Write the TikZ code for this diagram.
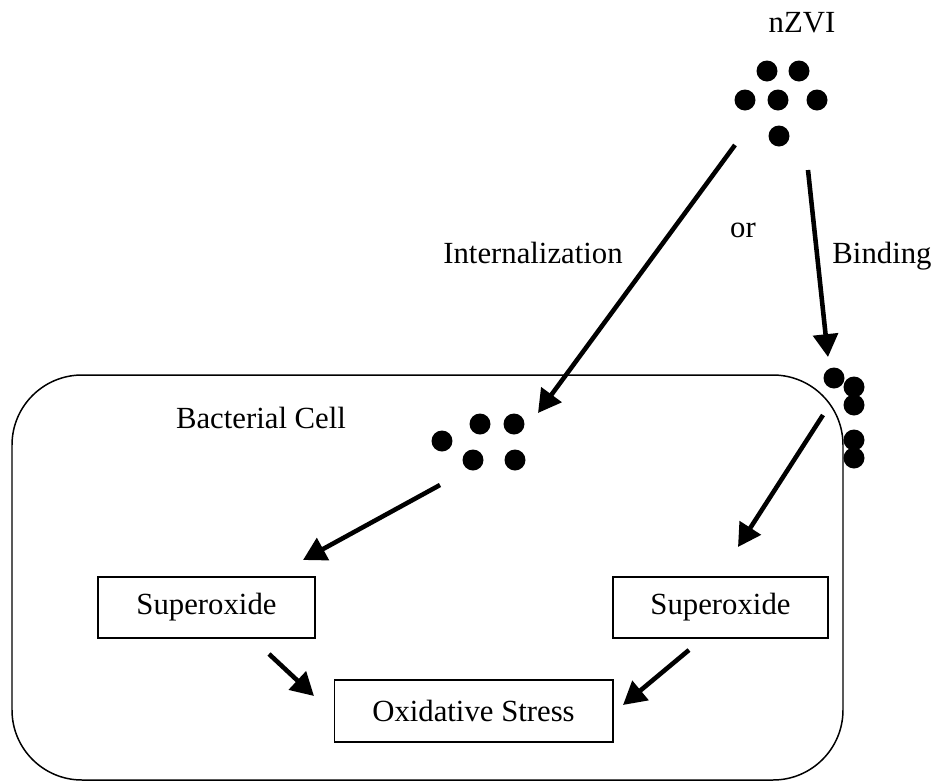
\documentclass[tikz,border=0pt]{standalone}
\usepackage{fontspec}
\setmainfont{Liberation Serif}
\usetikzlibrary{arrows.meta}

\begin{document}
\begin{tikzpicture}[
  x=0.02cm, y=-0.02cm,
  >={Triangle[length=13pt,width=14pt]},
  pointer/.style={->, line width=2.6pt},
  stagebox/.style={draw, line width=0.6pt, minimum height=1.22cm, inner sep=0pt},
  tag/.style={anchor=base, inner sep=0pt},
  font=\fontsize{17.5}{21}\selectfont
]

% --- Particle helper: (x,y) ---
\newcommand{\Particle}[2]{%
  \fill (#1,#2) circle (0.21cm);
}

\useasboundingbox (0,0) rectangle (938,782);

% --- Cell outline ---
\draw[line width=0.85pt, rounded corners=1.4cm] (12,375) rectangle (843,780);
\node[tag] (cell) at (261,428) {Bacterial Cell};

% --- Free particles ---
\node[tag] (nzvi) at (802,32) {nZVI};
\Particle{767}{71} \Particle{799}{71}
\Particle{745}{100} \Particle{778}{100} \Particle{817}{100}
\Particle{779}{136}

% --- Internalized particles ---
\Particle{480}{424} \Particle{514}{424}
\Particle{442}{441}
\Particle{473}{460} \Particle{515}{460}

% --- Bound particles ---
\Particle{834}{378} \Particle{854}{387} \Particle{854}{405}
\Particle{854}{440} \Particle{854}{458}

% --- Labels ---
\node[tag] (inlabel) at (533,263) {Internalization};
\node[tag] (orlabel) at (743,237) {or};
\node[tag] (bindlabel) at (882,263) {Binding};

% --- Boxes ---
\node[stagebox, minimum width=4.34cm] (supL) at (206.5,607.5) {Superoxide};
\node[stagebox, minimum width=4.3cm] (supR) at (720.5,607.5) {Superoxide};
\node[stagebox, minimum width=5.58cm, minimum height=1.24cm] (stress) at (473.5,711) {Oxidative Stress};

% --- Arrow ends ---
\coordinate (freeA) at (735,145);
\coordinate (inside) at (538,413);
\coordinate (freeB) at (808,170);
\coordinate (bound) at (828,357);
\coordinate (insideOut) at (440,485);
\coordinate (supLin) at (303,560);
\coordinate (boundOut) at (823,415);
\coordinate (supRin) at (738,547);
\coordinate (supLout) at (269,654);
\coordinate (stressL) at (314,696);
\coordinate (supRout) at (689,650);
\coordinate (stressR) at (623,705);

% --- Arrows ---
\draw[pointer] (freeA) -- (inside);
\draw[pointer] (freeB) -- (bound);
\draw[pointer] (insideOut) -- (supLin);
\draw[pointer] (boundOut) -- (supRin);
\draw[pointer] (supLout) -- (stressL);
\draw[pointer] (supRout) -- (stressR);

\end{tikzpicture}
\end{document}
